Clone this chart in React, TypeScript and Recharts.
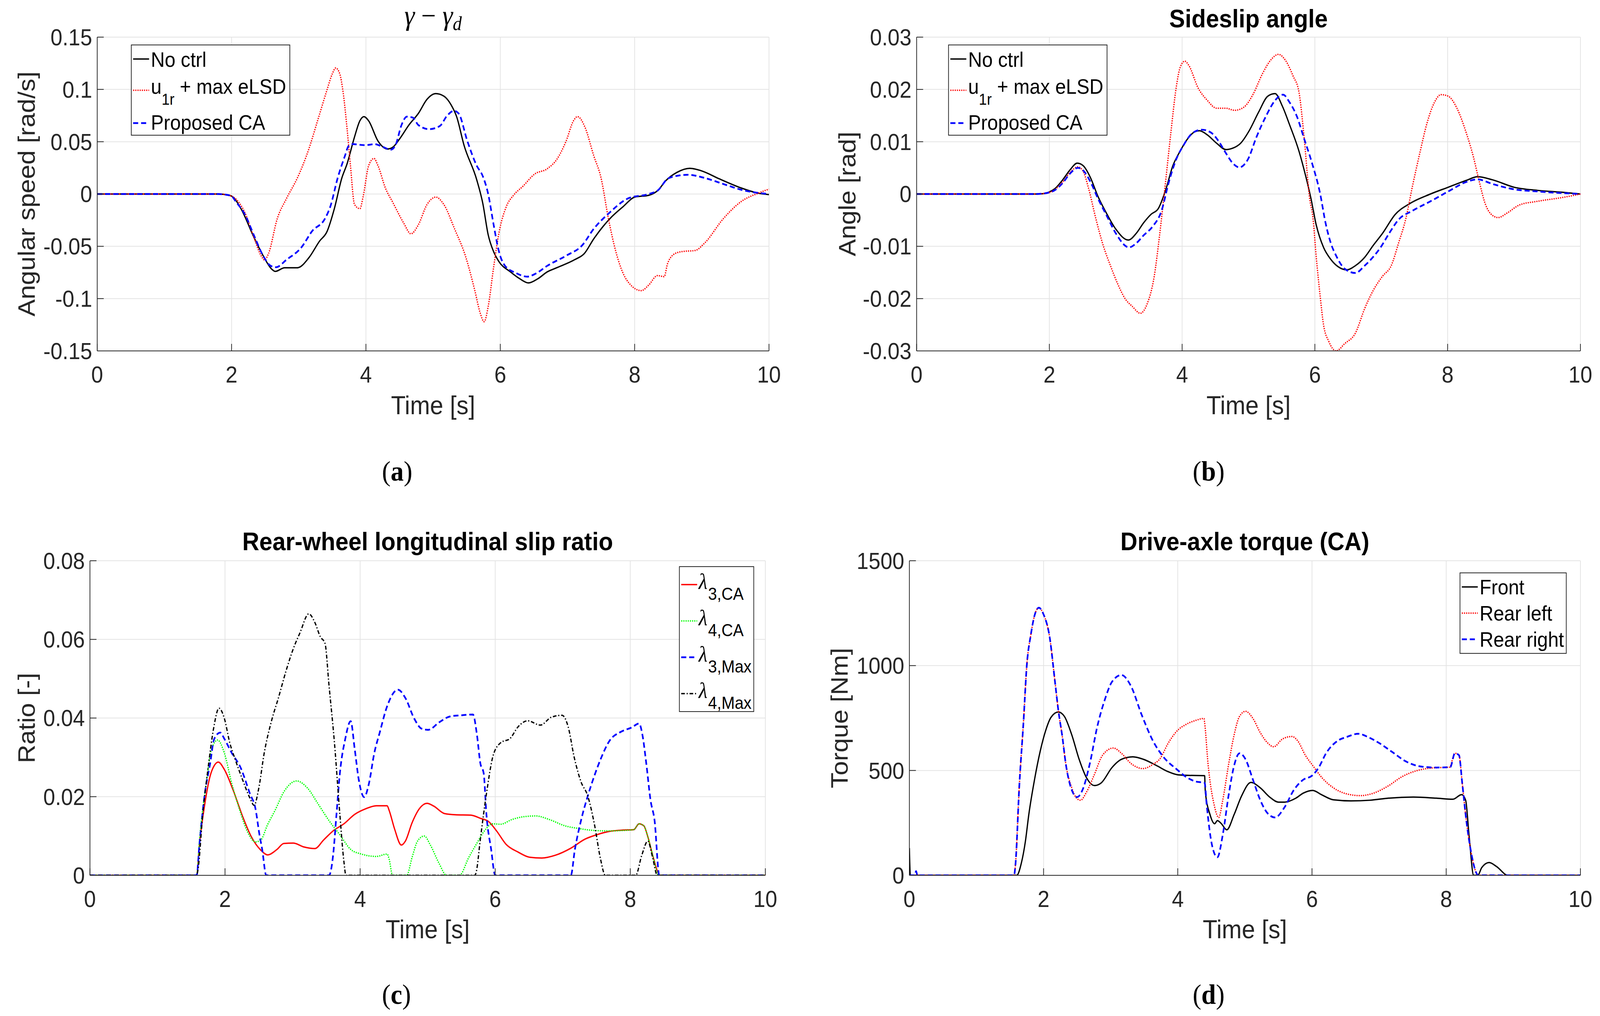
import React from "react";
import { CartesianGrid, Line, LineChart, XAxis, YAxis } from "recharts";

type Pt = [number, number];

// ---- axes ----
const TIME_TICKS = [0, 2, 4, 6, 8, 10];

const YAW_TICKS = [-0.15, -0.1, -0.05, 0, 0.05, 0.1, 0.15];
const YAW_LABELS = ["-0.15", "-0.1", "-0.05", "0", "0.05", "0.1", "0.15"];

const BETA_TICKS = [-0.03, -0.02, -0.01, 0, 0.01, 0.02, 0.03];
const BETA_LABELS = ["-0.03", "-0.02", "-0.01", "0", "0.01", "0.02", "0.03"];

const SLIP_TICKS = [0, 0.02, 0.04, 0.06, 0.08];
const SLIP_LABELS = ["0", "0.02", "0.04", "0.06", "0.08"];

const TORQUE_TICKS = [0, 500, 1000, 1500];
const TORQUE_LABELS = ["0", "500", "1000", "1500"];

// ---- (a) yaw-rate error [rad/s] ----
const A_NOCTRL: Pt[] = [
  [0, 0], [1.8, 0], [1.9, -0.0005], [2.0, -0.002], [2.14, -0.014], [2.33, -0.041], [2.47, -0.059],
  [2.6, -0.072], [2.65, -0.074], [2.79, -0.0705], [2.98, -0.0705], [3.15, -0.061], [3.31, -0.045],
  [3.42, -0.036], [3.53, -0.014], [3.64, 0.015], [3.72, 0.029], [3.83, 0.0545], [3.91, 0.07],
  [3.97, 0.074], [4.04, 0.07], [4.18, 0.0506], [4.32, 0.043], [4.4, 0.0447], [4.51, 0.0535],
  [4.64, 0.066], [4.78, 0.077], [4.91, 0.0906], [5.04, 0.096], [5.16, 0.0936], [5.27, 0.085],
  [5.35, 0.074], [5.46, 0.0467], [5.65, 0.0135], [5.74, -0.009], [5.82, -0.039], [5.9, -0.055],
  [5.98, -0.0646], [6.15, -0.0744], [6.29, -0.081], [6.42, -0.085], [6.56, -0.081], [6.7, -0.0744],
  [6.84, -0.0705], [7.11, -0.0627], [7.25, -0.057], [7.39, -0.043], [7.53, -0.031], [7.66, -0.0217],
  [7.83, -0.012], [8.0, -0.003], [8.21, -0.0012], [8.35, 0.0037], [8.46, 0.0125], [8.63, 0.0207],
  [8.82, 0.0246], [8.99, 0.0223], [9.26, 0.0145], [9.59, 0.0057], [9.84, 0.0008], [10, -0.0006],
];
const A_ELSD: Pt[] = [
  [0, 0], [1.8, 0], [1.9, -0.0005], [2.0, -0.002], [2.2, -0.018], [2.33, -0.041], [2.44, -0.059],
  [2.49, -0.063], [2.55, -0.057], [2.68, -0.0236], [2.82, -0.004], [2.98, 0.0154], [3.15, 0.043],
  [3.28, 0.07], [3.42, 0.0994], [3.5, 0.115], [3.55, 0.1205], [3.61, 0.115], [3.66, 0.0975],
  [3.72, 0.062], [3.77, 0.027], [3.83, -0.01], [3.91, -0.014], [3.96, -0.002], [4.04, 0.027],
  [4.12, 0.034], [4.18, 0.027], [4.29, 0.0057], [4.4, -0.008], [4.56, -0.0275], [4.67, -0.038],
  [4.78, -0.0295], [4.91, -0.01], [5.04, -0.003], [5.16, -0.01], [5.32, -0.0334], [5.48, -0.059],
  [5.62, -0.092], [5.7, -0.1135], [5.76, -0.122], [5.82, -0.1076], [5.9, -0.0705], [5.98, -0.0373],
  [6.09, -0.012], [6.2, -0.001], [6.34, 0.0076], [6.51, 0.019], [6.7, 0.0242], [6.84, 0.033],
  [6.98, 0.0506], [7.09, 0.07], [7.15, 0.074], [7.26, 0.064], [7.39, 0.0369], [7.5, 0.0154],
  [7.61, -0.0236], [7.72, -0.055], [7.88, -0.082], [8.1, -0.0924], [8.21, -0.087], [8.34, -0.078],
  [8.44, -0.079], [8.49, -0.0666], [8.6, -0.057], [8.71, -0.055], [8.9, -0.054], [9.04, -0.047],
  [9.32, -0.0236], [9.59, -0.007], [9.84, 0.0008], [10, 0.0047],
];
const A_CA: Pt[] = [
  [0, 0], [1.8, 0], [1.9, -0.0005], [2.0, -0.002], [2.06, -0.007], [2.2, -0.0197], [2.33, -0.039],
  [2.47, -0.059], [2.58, -0.0686], [2.66, -0.07], [2.82, -0.0627], [3.04, -0.051], [3.2, -0.0354],
  [3.39, -0.0236], [3.47, -0.012], [3.58, 0.0154], [3.69, 0.0369], [3.74, 0.0457], [3.8, 0.0477],
  [3.99, 0.0467], [4.13, 0.0477], [4.23, 0.0457], [4.37, 0.0424], [4.44, 0.0467], [4.53, 0.066],
  [4.61, 0.074], [4.7, 0.073], [4.78, 0.066], [4.94, 0.062], [5.1, 0.065], [5.21, 0.075],
  [5.31, 0.0795], [5.38, 0.077], [5.51, 0.0506], [5.65, 0.027], [5.74, 0.017], [5.82, 0],
  [5.9, -0.029], [5.98, -0.055], [6.07, -0.0686], [6.23, -0.0754], [6.4, -0.079], [6.53, -0.076],
  [6.7, -0.0686], [6.98, -0.059], [7.22, -0.049], [7.39, -0.0334], [7.61, -0.0188], [7.91, -0.004],
  [8.21, 0], [8.35, 0.0037], [8.49, 0.0145], [8.63, 0.0174], [8.79, 0.0184], [9.04, 0.0154],
  [9.32, 0.0096], [9.59, 0.004], [10, 0],
];

// ---- (b) sideslip angle [rad] ----
const B_NOCTRL: Pt[] = [
  [0, 0], [1.8, 0], [1.93, 0.0001], [2.0, 0.0004], [2.09, 0.0011], [2.2, 0.0027], [2.31, 0.0046],
  [2.42, 0.0059], [2.51, 0.0054], [2.62, 0.0031], [2.73, -0.0004], [2.87, -0.0039], [3.0, -0.0067],
  [3.19, -0.0088], [3.31, -0.0075], [3.42, -0.0055], [3.53, -0.0039], [3.64, -0.0028], [3.75, 0.0007],
  [3.86, 0.0054], [3.97, 0.0082], [4.08, 0.0105], [4.19, 0.0119], [4.26, 0.0121], [4.38, 0.0113],
  [4.52, 0.0097], [4.66, 0.0085], [4.77, 0.0088], [4.88, 0.0097], [5.01, 0.0121], [5.15, 0.0156],
  [5.29, 0.0187], [5.4, 0.0192], [5.51, 0.0168], [5.62, 0.0132], [5.76, 0.0082], [5.86, 0.0035],
  [5.94, -0.0008], [6.02, -0.0059], [6.13, -0.0102], [6.24, -0.0125], [6.35, -0.0139], [6.48, -0.0145],
  [6.61, -0.0137], [6.75, -0.0121], [6.88, -0.0098], [7.02, -0.0075], [7.21, -0.0039], [7.42, -0.0019],
  [7.74, 0], [8.01, 0.0013], [8.28, 0.0026], [8.45, 0.0033], [8.68, 0.0027], [9.0, 0.0013],
  [9.35, 0.0007], [9.76, 0.0003], [10, 0],
];
const B_ELSD: Pt[] = [
  [0, 0], [1.8, 0], [2.0, 0.0003], [2.2, 0.0023], [2.31, 0.0041], [2.43, 0.0052], [2.51, 0.0043],
  [2.59, 0.0011], [2.7, -0.0047], [2.81, -0.0098], [2.92, -0.0137], [3.03, -0.0172], [3.14, -0.02],
  [3.25, -0.0215], [3.37, -0.0228], [3.47, -0.0211], [3.58, -0.0157], [3.66, -0.0079], [3.75, 0.0023],
  [3.83, 0.0117], [3.91, 0.0203], [3.97, 0.0242], [4.04, 0.0254], [4.1, 0.0246], [4.24, 0.0203],
  [4.38, 0.0179], [4.52, 0.0164], [4.66, 0.0164], [4.79, 0.016], [4.93, 0.0166], [5.07, 0.0191],
  [5.21, 0.023], [5.34, 0.0257], [5.45, 0.0267], [5.56, 0.0255], [5.67, 0.0226], [5.76, 0.0195],
  [5.84, 0.0105], [5.92, -0.0008], [5.97, -0.0045], [6.02, -0.012], [6.08, -0.0196], [6.13, -0.025],
  [6.21, -0.0282], [6.32, -0.03], [6.45, -0.0286], [6.61, -0.0266], [6.75, -0.0219], [6.88, -0.0184],
  [7.02, -0.0157], [7.15, -0.0137], [7.26, -0.0094], [7.37, -0.0047], [7.47, 0.0015], [7.58, 0.0078],
  [7.69, 0.0136], [7.8, 0.0175], [7.9, 0.019], [8.01, 0.0187], [8.14, 0.0164], [8.28, 0.0117],
  [8.39, 0.007], [8.47, 0.0027], [8.57, -0.002], [8.65, -0.0038], [8.76, -0.0045], [8.9, -0.0036],
  [9.08, -0.0021], [9.35, -0.0014], [9.76, -0.0006], [10, 0],
];
const B_CA: Pt[] = [
  [0, 0], [1.8, 0], [2.0, 0.0003], [2.09, 0.0008], [2.2, 0.0021], [2.31, 0.0039], [2.43, 0.005],
  [2.51, 0.0045], [2.62, 0.0023], [2.73, -0.0008], [2.87, -0.0043], [3.0, -0.0075], [3.2, -0.0102],
  [3.31, -0.0094], [3.42, -0.0079], [3.55, -0.0063], [3.69, -0.0032], [3.8, 0.0023], [3.91, 0.0066],
  [4.02, 0.0093], [4.16, 0.0117], [4.3, 0.0123], [4.44, 0.0117], [4.55, 0.0101], [4.66, 0.0078],
  [4.77, 0.0058], [4.86, 0.0051], [4.99, 0.0066], [5.12, 0.0109], [5.26, 0.0148], [5.4, 0.0179],
  [5.52, 0.019], [5.62, 0.0175], [5.73, 0.0148], [5.84, 0.0105], [5.95, 0.0062], [6.08, 0],
  [6.16, -0.0055], [6.24, -0.0094], [6.32, -0.0118], [6.45, -0.0143], [6.61, -0.0151], [6.75, -0.0137],
  [6.88, -0.012], [6.99, -0.0102], [7.12, -0.0075], [7.26, -0.0049], [7.47, -0.0032], [7.74, -0.0014],
  [8.01, 0.0005], [8.28, 0.0023], [8.45, 0.0028], [8.68, 0.0019], [9.0, 0.0009], [9.35, 0.0005],
  [10, 0],
];

// ---- (c) rear-wheel slip ratio [-] ----
const C_L3_CA: Pt[] = [
  [0, 0], [1.58, 0], [1.62, 0.0077], [1.7, 0.0181], [1.78, 0.0253], [1.84, 0.0279], [1.9, 0.0288],
  [1.99, 0.0269], [2.13, 0.0212], [2.26, 0.015], [2.39, 0.0098], [2.53, 0.0064], [2.63, 0.0052],
  [2.77, 0.0066], [2.87, 0.0081], [3.01, 0.0082], [3.17, 0.0072], [3.33, 0.0068], [3.46, 0.009],
  [3.6, 0.0113], [3.76, 0.0131], [3.92, 0.0155], [4.08, 0.0169], [4.24, 0.0177], [4.4, 0.0177],
  [4.43, 0.0165], [4.51, 0.0118], [4.61, 0.0077], [4.67, 0.0087], [4.77, 0.0134], [4.88, 0.017],
  [4.99, 0.0183], [5.09, 0.0176], [5.25, 0.0157], [5.41, 0.0154], [5.64, 0.0153], [5.78, 0.0145],
  [5.9, 0.0137], [6.02, 0.0113], [6.16, 0.0079], [6.34, 0.0059], [6.51, 0.0046], [6.69, 0.0044],
  [6.89, 0.0051], [7.12, 0.0069], [7.33, 0.0092], [7.5, 0.0103], [7.67, 0.0111], [7.88, 0.0115],
  [8.05, 0.0116], [8.13, 0.0131], [8.2, 0.0126], [8.26, 0.0098], [8.34, 0.0046], [8.44, 0], [10, 0],
];
const C_L4_CA: Pt[] = [
  [0, 0], [1.58, 0], [1.62, 0.0087], [1.72, 0.0233], [1.8, 0.0321], [1.89, 0.0344], [1.99, 0.0311],
  [2.1, 0.0233], [2.21, 0.017], [2.34, 0.0108], [2.45, 0.0085], [2.53, 0.009], [2.63, 0.0129],
  [2.74, 0.0165], [2.87, 0.0212], [3.06, 0.024], [3.22, 0.0222], [3.38, 0.0181], [3.54, 0.0139],
  [3.7, 0.0103], [3.86, 0.0066], [4.02, 0.0054], [4.24, 0.0048], [4.4, 0.0054], [4.43, 0.0041],
  [4.48, 0], [4.69, 0], [4.77, 0.0046], [4.85, 0.0087], [4.95, 0.01], [5.04, 0.0077], [5.17, 0.003],
  [5.28, 0], [5.47, 0], [5.61, 0.0046], [5.73, 0.0082], [5.84, 0.0113], [5.96, 0.0131], [6.08, 0.013],
  [6.25, 0.0142], [6.42, 0.0149], [6.6, 0.0151], [6.8, 0.0142], [7.03, 0.0126], [7.24, 0.0119],
  [7.47, 0.0114], [7.67, 0.0113], [8.05, 0.0116], [8.13, 0.0131], [8.2, 0.0126], [8.26, 0.0098],
  [8.34, 0.0046], [8.42, 0], [10, 0],
];
const C_L3_MAX: Pt[] = [
  [0, 0], [1.58, 0], [1.62, 0.0077], [1.7, 0.0207], [1.78, 0.0285], [1.84, 0.0347], [1.93, 0.0363],
  [1.99, 0.0347], [2.1, 0.0311], [2.23, 0.0274], [2.37, 0.0207], [2.45, 0.017], [2.51, 0.0103],
  [2.55, 0.0066], [2.61, 0], [3.54, 0], [3.6, 0.0051], [3.65, 0.0155], [3.7, 0.0259], [3.78, 0.0347],
  [3.86, 0.0392], [3.92, 0.0321], [3.98, 0.0243], [4.06, 0.0199], [4.13, 0.0233], [4.21, 0.0311],
  [4.29, 0.0363], [4.4, 0.043], [4.56, 0.0472], [4.67, 0.0451], [4.8, 0.0399], [4.91, 0.0373],
  [5.01, 0.037], [5.17, 0.0389], [5.33, 0.0404], [5.5, 0.0407], [5.67, 0.0409], [5.73, 0.0357],
  [5.78, 0.0285], [5.83, 0.0259], [5.87, 0.0155], [5.94, 0.0066], [6.0, 0], [7.12, 0], [7.18, 0.0066],
  [7.27, 0.0139], [7.38, 0.0207], [7.47, 0.0254], [7.56, 0.0295], [7.7, 0.0344], [7.85, 0.0364],
  [8.02, 0.0376], [8.13, 0.0386], [8.18, 0.0357], [8.24, 0.028], [8.3, 0.0191], [8.36, 0.0139],
  [8.43, 0], [10, 0],
];
const C_L4_MAX: Pt[] = [
  [0, 0], [1.58, 0], [1.6, 0.0015], [1.67, 0.0155], [1.75, 0.0274], [1.83, 0.0373], [1.91, 0.0425],
  [1.99, 0.0399], [2.07, 0.0337], [2.15, 0.0295], [2.26, 0.0243], [2.37, 0.0196], [2.43, 0.0178],
  [2.5, 0.0222], [2.58, 0.0311], [2.69, 0.0394], [2.79, 0.0451], [2.9, 0.0518], [3.01, 0.0576],
  [3.11, 0.0617], [3.24, 0.0665], [3.33, 0.0643], [3.41, 0.0607], [3.48, 0.059], [3.54, 0.0482],
  [3.62, 0.0337], [3.7, 0.0155], [3.76, 0.0035], [3.79, 0], [5.7, 0], [5.72, 0.0009], [5.78, 0.0092],
  [5.87, 0.0207], [5.97, 0.0305], [6.08, 0.0337], [6.22, 0.0348], [6.34, 0.0378], [6.48, 0.0393],
  [6.67, 0.0382], [6.83, 0.0402], [6.99, 0.0407], [7.08, 0.0378], [7.17, 0.03], [7.27, 0.0238],
  [7.37, 0.0202], [7.47, 0.0129], [7.56, 0.0041], [7.63, 0], [8.08, 0], [8.17, 0.0051], [8.26, 0.0087],
  [8.33, 0.0046], [8.4, 0], [10, 0],
];

// ---- (d) drive-axle torque [Nm] ----
const D_FRONT: Pt[] = [
  [0, 130], [0.015, 0], [1.6, 0], [1.67, 60], [1.73, 164], [1.78, 290], [1.865, 456], [1.95, 592],
  [2.03, 689], [2.11, 753], [2.22, 779], [2.31, 758], [2.42, 670], [2.53, 553], [2.64, 465],
  [2.76, 428], [2.86, 441], [3.02, 514], [3.16, 553], [3.33, 565], [3.49, 553], [3.68, 524],
  [3.85, 495], [3.99, 480], [4.12, 477], [4.4, 475], [4.41, 400], [4.48, 290], [4.55, 246],
  [4.59, 261], [4.65, 246], [4.73, 217], [4.84, 290], [4.95, 378], [5.09, 443], [5.23, 417],
  [5.37, 373], [5.5, 349], [5.59, 349], [5.76, 368], [5.87, 392], [6.01, 405], [6.15, 383],
  [6.32, 360], [6.58, 355], [6.86, 358], [7.14, 368], [7.51, 373], [7.85, 368], [8.1, 363],
  [8.23, 385], [8.29, 358], [8.34, 193], [8.41, 0], [8.47, 0], [8.53, 37], [8.64, 61], [8.75, 42],
  [8.92, 0], [10, 0],
];
const D_REAR_L: Pt[] = [
  [0, 0], [1.56, 0], [1.58, 47], [1.64, 436], [1.7, 728], [1.75, 1001], [1.81, 1147], [1.87, 1244],
  [1.93, 1276], [2.0, 1244], [2.09, 1137], [2.17, 923], [2.22, 787], [2.28, 660], [2.33, 534],
  [2.42, 417], [2.47, 378], [2.55, 358], [2.64, 397], [2.75, 475], [2.88, 573], [3.04, 607],
  [3.16, 582], [3.3, 534], [3.48, 509], [3.63, 529], [3.74, 558], [3.85, 626], [3.99, 689],
  [4.12, 719], [4.26, 738], [4.39, 748], [4.4, 728], [4.45, 534], [4.54, 339], [4.61, 276],
  [4.67, 358], [4.76, 534], [4.84, 670], [4.92, 758], [5.01, 782], [5.12, 748], [5.23, 680],
  [5.34, 631], [5.43, 613], [5.56, 650], [5.7, 662], [5.79, 640], [5.9, 573], [6.01, 524],
  [6.15, 465], [6.32, 417], [6.52, 388], [6.72, 380], [6.92, 392], [7.14, 427], [7.34, 470],
  [7.56, 499], [7.79, 512], [8.05, 516], [8.13, 582], [8.19, 573], [8.24, 436], [8.3, 261],
  [8.38, 95], [8.44, 18], [8.48, 0], [10, 0],
];
const D_REAR_R: Pt[] = [
  [0, 0], [0.08, 0], [0.1, 20], [0.12, 0], [1.56, 0], [1.58, 47], [1.64, 436], [1.7, 728],
  [1.75, 1001], [1.81, 1147], [1.87, 1244], [1.93, 1276], [2.0, 1244], [2.09, 1137], [2.17, 923],
  [2.22, 787], [2.28, 660], [2.33, 534], [2.42, 407], [2.5, 373], [2.58, 407], [2.69, 534],
  [2.8, 709], [2.91, 835], [3.02, 923], [3.16, 955], [3.3, 904], [3.46, 767], [3.63, 641],
  [3.79, 563], [3.99, 504], [4.12, 470], [4.26, 448], [4.4, 441], [4.43, 339], [4.51, 144],
  [4.59, 86], [4.67, 193], [4.76, 387], [4.84, 524], [4.92, 582], [5.01, 553], [5.12, 456],
  [5.23, 358], [5.34, 295], [5.45, 276], [5.59, 324], [5.73, 407], [5.87, 456], [6.0, 475],
  [6.1, 514], [6.21, 582], [6.38, 641], [6.52, 660], [6.69, 675], [6.83, 660], [7.0, 631],
  [7.2, 587], [7.4, 543], [7.62, 519], [7.85, 514], [8.06, 516], [8.13, 582], [8.19, 573],
  [8.24, 436], [8.3, 261], [8.38, 95], [8.44, 18], [8.48, 0], [10, 0],
];

// ---- styling ----
const PAGE_W = 4411;
const PAGE_H = 2600;
const SANS = "'Liberation Sans', Arial, Helvetica, sans-serif";
const SERIF = "'Liberation Serif', 'Times New Roman', serif";
const AXIS = "#262626";
const GRID = "#e3e3e3";
const TICK = 18;
const YW = 260;
const MT = 40;
const MR = 40;
const XH = 120;

type Series = { name: string; pts: Pt[]; color: string; width: number; dash?: string };
type Box = { x0: number; x1: number; y0: number; y1: number };

const SOLID_K = { color: "#000000", width: 3.5 };
const DOT_R = { color: "#ff0000", width: 3.5, dash: "3 3" };
const DASH_B = { color: "#0000ff", width: 4.5, dash: "14 8" };

const A_SERIES: Series[] = [
  { name: "No ctrl", pts: A_NOCTRL, ...SOLID_K },
  { name: "u1r + max eLSD", pts: A_ELSD, ...DOT_R },
  { name: "Proposed CA", pts: A_CA, ...DASH_B },
];
const B_SERIES: Series[] = [
  { name: "No ctrl", pts: B_NOCTRL, ...SOLID_K },
  { name: "u1r + max eLSD", pts: B_ELSD, ...DOT_R },
  { name: "Proposed CA", pts: B_CA, ...DASH_B },
];
const C_SERIES: Series[] = [
  { name: "3,CA", pts: C_L3_CA, color: "#ff0000", width: 3.5 },
  { name: "4,CA", pts: C_L4_CA, color: "#00ff00", width: 3.5, dash: "3 3" },
  { name: "3,Max", pts: C_L3_MAX, ...DASH_B },
  { name: "4,Max", pts: C_L4_MAX, color: "#000000", width: 3.5, dash: "10 5 3 5" },
];
const D_SERIES: Series[] = [
  { name: "Front", pts: D_FRONT, ...SOLID_K },
  { name: "Rear left", pts: D_REAR_L, ...DOT_R },
  { name: "Rear right", pts: D_REAR_R, ...DASH_B },
];

const BOX_A: Box = { x0: 268, x1: 2120, y0: 95, y1: 898 };
const BOX_B: Box = { x0: 2527, x1: 4357, y0: 95, y1: 898 };
const BOX_C: Box = { x0: 248, x1: 2110, y0: 1435, y1: 2240 };
const BOX_D: Box = { x0: 2507, x1: 4357, y0: 1435, y1: 2240 };

const rows = (pts: Pt[]) => pts.map(([t, v]) => ({ t, v }));

function Panel({ box, domain, ticks, labels, series }: {
  box: Box; domain: [number, number]; ticks: number[]; labels: string[]; series: Series[];
}) {
  const fmt = (v: number) => labels[ticks.indexOf(v)] ?? String(v);
  const tickFont = { fill: AXIS, fontSize: 59, fontFamily: SANS };
  return (
    <div style={{ position: "absolute", left: box.x0 - YW, top: box.y0 - MT }}>
      <LineChart
        width={box.x1 - box.x0 + YW + MR}
        height={box.y1 - box.y0 + MT + XH}
        margin={{ top: MT, right: MR, left: 0, bottom: 0 }}
      >
        <CartesianGrid stroke={GRID} strokeWidth={2} />
        <XAxis dataKey="t" type="number" domain={[0, 10]} ticks={TIME_TICKS} interval={0}
          allowDataOverflow height={XH} tickSize={-TICK} tickMargin={TICK + 39}
          stroke={AXIS} strokeWidth={2} tick={tickFont} />
        <XAxis xAxisId="top" orientation="top" dataKey="t" type="number" domain={[0, 10]}
          ticks={TIME_TICKS} interval={0} allowDataOverflow height={0} tick={false}
          tickSize={-TICK} stroke={AXIS} strokeWidth={2} />
        <YAxis type="number" domain={domain} ticks={ticks} interval={0} allowDataOverflow
          width={YW} tickSize={-TICK} tickMargin={TICK + 14} stroke={AXIS} strokeWidth={2}
          tick={tickFont} tickFormatter={fmt} />
        <YAxis yAxisId="right" orientation="right" type="number" domain={domain} ticks={ticks}
          interval={0} allowDataOverflow width={0} tick={false} tickSize={-TICK}
          stroke={AXIS} strokeWidth={2} />
        {series.map((s) => (
          <Line key={s.name} data={rows(s.pts)} dataKey="v" name={s.name} type="monotone"
            stroke={s.color} strokeWidth={s.width} strokeDasharray={s.dash}
            dot={false} activeDot={false} isAnimationActive={false} />
        ))}
      </LineChart>
    </div>
  );
}

function Swatch({ x, y, s }: { x: number; y: number; s: Series }) {
  return <line x1={x} x2={x + 44} y1={y} y2={y} stroke={s.color} strokeWidth={s.width} strokeDasharray={s.dash} />;
}

function YLabel({ x, y, text }: { x: number; y: number; text: string }) {
  return (
    <text transform={`translate(${x},${y}) rotate(-90)`} textAnchor="middle" fontFamily={SANS} fontSize={66} fill={AXIS}>
      {text}
    </text>
  );
}

function XLabel({ x, y }: { x: number; y: number }) {
  return <text x={x} y={y} textAnchor="middle" fontFamily={SANS} fontSize={66} fill={AXIS}>Time [s]</text>;
}

function Caption({ x, y, letter }: { x: number; y: number; letter: string }) {
  return (
    <text x={x} y={y} textAnchor="middle" fontFamily={SERIF} fontSize={72} fill="#000">
      (<tspan fontWeight="bold">{letter}</tspan>)
    </text>
  );
}

function CtrlLegend({ x, series }: { x: number; series: Series[] }) {
  return (
    <g fontFamily={SANS} fontSize={53} fill="#000">
      <rect x={x} y={115} width={437} height={231} fill="#fff" stroke={AXIS} strokeWidth={2} />
      <Swatch x={x + 5} y={151} s={series[0]} />
      <text x={x + 54} y={171}>{series[0].name}</text>
      <Swatch x={x + 5} y={231} s={series[1]} />
      <text x={x + 54} y={240}>
        u<tspan fontSize={40} dy={28}>1r</tspan><tspan dy={-28}> + max eLSD</tspan>
      </text>
      <Swatch x={x + 5} y={315} s={series[2]} />
      <text x={x + 54} y={332}>{series[2].name}</text>
    </g>
  );
}

export default function App() {
  // the headless viewport can come out narrower than the requested page: fit the page into it
  const vw = typeof window !== "undefined" ? window.innerWidth : PAGE_W;
  const vh = typeof window !== "undefined" ? window.innerHeight : PAGE_H;
  const sx = Math.min(1, vw / PAGE_W);
  const sy = Math.min(1, vh / PAGE_H);

  const midA = (BOX_A.x0 + BOX_A.x1) / 2;
  const midB = (BOX_B.x0 + BOX_B.x1) / 2;
  const midC = (BOX_C.x0 + BOX_C.x1) / 2;
  const midD = (BOX_D.x0 + BOX_D.x1) / 2;
  return (
    <div style={{ position: "absolute", left: 0, top: 0, width: PAGE_W * sx, height: PAGE_H * sy, overflow: "hidden", background: "#fff" }}>
      <div style={{ position: "absolute", left: 0, top: 0, width: PAGE_W, height: PAGE_H, transform: `scale(${sx}, ${sy})`, transformOrigin: "0 0" }}>
        <Panel box={BOX_A} domain={[-0.15, 0.15]} ticks={YAW_TICKS} labels={YAW_LABELS} series={A_SERIES} />
        <Panel box={BOX_B} domain={[-0.03, 0.03]} ticks={BETA_TICKS} labels={BETA_LABELS} series={B_SERIES} />
        <Panel box={BOX_C} domain={[0, 0.08]} ticks={SLIP_TICKS} labels={SLIP_LABELS} series={C_SERIES} />
        <Panel box={BOX_D} domain={[0, 1500]} ticks={TORQUE_TICKS} labels={TORQUE_LABELS} series={D_SERIES} />

        <svg width={PAGE_W} height={PAGE_H} style={{ position: "absolute", left: 0, top: 0, pointerEvents: "none" }}>
          {/* titles */}
          <text x={midA} y={64} textAnchor="middle" fontFamily={SERIF} fontSize={72} fontStyle="italic" fill="#000">
            γ<tspan fontStyle="normal"> − </tspan>γ<tspan fontSize={50} dy={13}>d</tspan>
          </text>
          <text x={midB} y={70} textAnchor="middle" fontFamily={SANS} fontSize={65} fontWeight="bold" fill="#000">Sideslip angle</text>
          <text x={midC} y={1408} textAnchor="middle" fontFamily={SANS} fontSize={65} fontWeight="bold" fill="#000">Rear-wheel longitudinal slip ratio</text>
          <text x={midD} y={1408} textAnchor="middle" fontFamily={SANS} fontSize={65} fontWeight="bold" fill="#000">Drive-axle torque (CA)</text>

          {/* axis labels */}
          <YLabel x={96} y={(BOX_A.y0 + BOX_A.y1) / 2} text="Angular speed [rad/s]" />
          <YLabel x={2358} y={(BOX_B.y0 + BOX_B.y1) / 2} text="Angle [rad]" />
          <YLabel x={96} y={(BOX_C.y0 + BOX_C.y1) / 2} text="Ratio [-]" />
          <YLabel x={2337} y={(BOX_D.y0 + BOX_D.y1) / 2} text="Torque [Nm]" />
          <XLabel x={midA} y={1060} />
          <XLabel x={midB} y={1060} />
          <XLabel x={midC} y={2401} />
          <XLabel x={midD} y={2401} />

          {/* legends */}
          <CtrlLegend x={362} series={A_SERIES} />
          <CtrlLegend x={2615} series={B_SERIES} />

          <g fontFamily={SANS} fill="#000">
            <rect x={1873} y={1450} width={205} height={371} fill="#fff" stroke={AXIS} strokeWidth={2} />
            {C_SERIES.map((s, i) => (
              <g key={s.name}>
                <Swatch x={1878} y={1496 + i * 93} s={s} />
                <text x={1926} y={1507 + i * 93} fontSize={56}>
                  <tspan fontFamily={SERIF} fontStyle="italic">λ</tspan>
                  <tspan fontSize={44} dx={2} dy={28}>{s.name}</tspan>
                </text>
              </g>
            ))}
          </g>

          <g fontFamily={SANS} fontSize={53} fill="#000">
            <rect x={4025} y={1466} width={293} height={206} fill="#fff" stroke={AXIS} strokeWidth={2} />
            {D_SERIES.map((s, i) => (
              <g key={s.name}>
                <Swatch x={4030} y={1502 + i * 67} s={s} />
                <text x={4079} y={1521 + i * 67}>{s.name}</text>
              </g>
            ))}
          </g>

          {/* sub-figure captions */}
          <Caption x={1095} y={1230} letter="a" />
          <Caption x={3332} y={1230} letter="b" />
          <Caption x={1093} y={2569} letter="c" />
          <Caption x={3332} y={2569} letter="d" />
        </svg>
      </div>
    </div>
  );
}
